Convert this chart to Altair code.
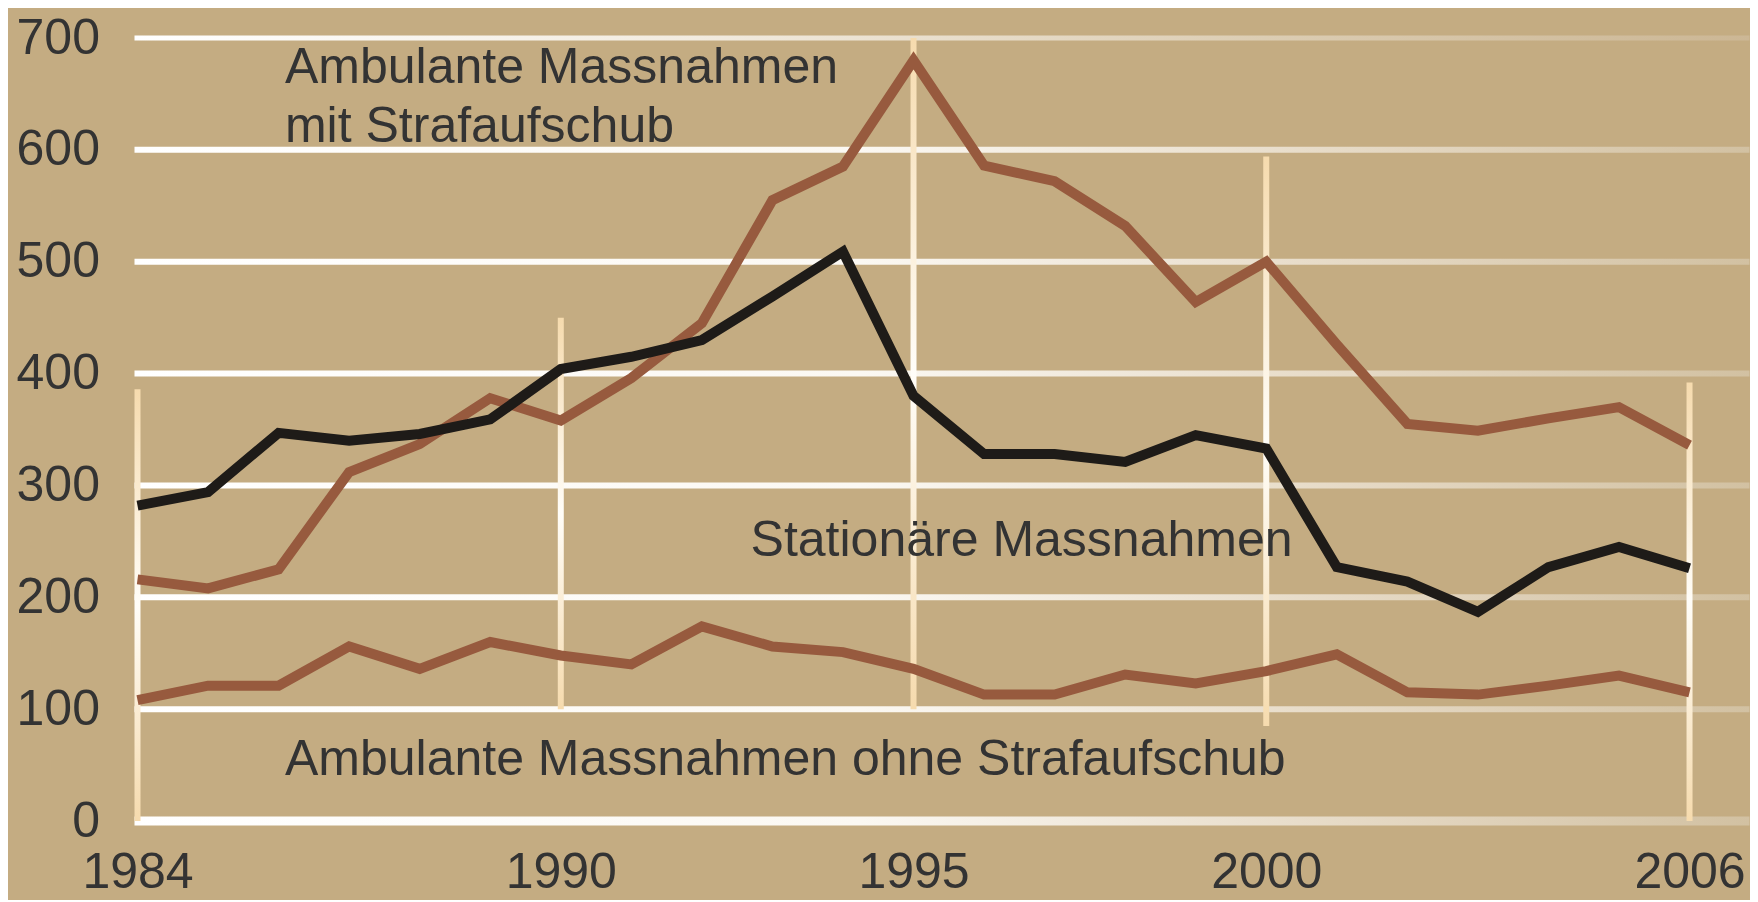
import altair as alt
import pandas as pd

# ---- data ----
years = list(range(1984, 2007))
stationaer = [282, 294, 347, 340, 346, 359, 404, 415, 430, 469, 509, 380, 328, 328,
              321, 345, 333, 227, 214, 187, 227, 245, 226]
mit_aufschub = [216, 208, 225, 312, 337, 378, 358, 396, 445, 555, 585, 680, 586, 572,
                532, 464, 500, 426, 355, 349, 360, 370, 336]
ohne_aufschub = [108, 121, 121, 156, 136, 160, 148, 140, 174, 156, 151, 136, 113, 113,
                 131, 123, 134, 149, 115, 113, 121, 130, 115]

series_names = ["Ambulante Massnahmen ohne Strafaufschub",
                "Ambulante Massnahmen mit Strafaufschub",
                "Stationäre Massnahmen"]
series_colors = ["#975A3E", "#975A3E", "#1E1B18"]

x_ticks = [1984, 1990, 1995, 2000, 2006]
y_ticks = [0, 100, 200, 300, 400, 500, 600, 700]

grid_mid = [100, 200, 300, 400, 500, 600]
grid_top = [700]
grid_base = [0]

rule_years = [1984, 1990, 1995, 2000, 2006]
rule_top = [386, 450, 700, 594, 392]
rule_bottom = [0, 100, 100, 85, 0]

ann_text = ["Ambulante Massnahmen", "mit Strafaufschub", "Stationäre Massnahmen",
            "Ambulante Massnahmen ohne Strafaufschub"]
ann_year = [1986.09, 1986.09, 1992.69, 1986.09]
ann_value = [660, 607, 237, 41]

# ---- tables ----
rows = []
for name, vals in zip(series_names, [ohne_aufschub, mit_aufschub, stationaer]):
    for y, v in zip(years, vals):
        rows.append({"year": y, "value": v, "series": name})
lines_df = pd.DataFrame(rows)
rules_df = pd.DataFrame({"year": rule_years, "top": rule_top, "bottom": rule_bottom})
ann_df = pd.DataFrame({"text": ann_text, "year": ann_year, "value": ann_value})

FONT = "Liberation Sans"
TXT = "#333333"
BG = "#C4AC82"

xscale = alt.Scale(domain=[1984, 2006.85], nice=False, zero=False)
yscale = alt.Scale(domain=[0, 700], nice=False)

xaxis = alt.Axis(values=x_ticks, format="d", labelFont=FONT, labelFontSize=50,
                 labelColor=TXT, labelPadding=26, ticks=False, tickSize=0,
                 domain=False, grid=False, labelFlush=False, labelOverlap=False)
yaxis = alt.Axis(values=y_ticks, labelFont=FONT, labelFontSize=50,
                 labelColor=TXT, labelPadding=38, ticks=False, tickSize=0,
                 domain=False, grid=False, labelFlush=False, labelOverlap=False)

grad_h = {"gradient": "linear", "x1": 0, "y1": 0, "x2": 1, "y2": 0,
          "stops": [{"offset": 0, "color": "#FFFFFF"},
                    {"offset": 0.45, "color": "#FBF8F2"},
                    {"offset": 0.75, "color": "#E6DAC6"},
                    {"offset": 1, "color": "#D2C1A2"}]}
grad_top = {"gradient": "linear", "x1": 0, "y1": 0, "x2": 1, "y2": 0,
            "stops": [{"offset": 0, "color": "#FFFFFF"},
                      {"offset": 0.35, "color": "#F2EBDF"},
                      {"offset": 0.7, "color": "#DCCDB3"},
                      {"offset": 1, "color": "#CCB795"}]}
grad_v = {"gradient": "linear", "x1": 0, "y1": 0, "x2": 0, "y2": 1,
          "stops": [{"offset": 0, "color": "#F6DBAE"},
                    {"offset": 0.5, "color": "#FFFDF8"},
                    {"offset": 1, "color": "#F6DBAE"}]}


def hgrid(vals, fill, half):
    df = pd.DataFrame({"v": vals})
    return alt.Chart(df).mark_rect(fill=fill, yOffset=-half, y2Offset=half, xOffset=-3).encode(
        x=alt.value(0), x2=alt.value(1612),
        y=alt.Y("v:Q", scale=yscale, axis=yaxis, title=None),
        y2=alt.Y2("v:Q"),
    )


g1 = hgrid(grid_mid, grad_h, 3)
g2 = hgrid(grid_top, grad_top, 2.5)
g3 = hgrid(grid_base, grad_h, 4.5)

vrules = alt.Chart(rules_df).mark_rect(fill=grad_v, xOffset=-3, x2Offset=3).encode(
    x=alt.X("year:Q", scale=xscale, axis=xaxis, title=None),
    x2=alt.X2("year:Q"),
    y=alt.Y("top:Q", scale=yscale, axis=yaxis, title=None),
    y2=alt.Y2("bottom:Q"),
)

lines = alt.Chart(lines_df).mark_line(strokeWidth=10, strokeJoin="miter", strokeCap="butt").encode(
    x=alt.X("year:Q", scale=xscale, title=None, axis=xaxis),
    y=alt.Y("value:Q", scale=yscale, title=None, axis=yaxis),
    color=alt.Color("series:N", scale=alt.Scale(domain=series_names, range=series_colors),
                    legend=None),
    detail="series:N",
    order=alt.Order("year:Q"),
)

texts = alt.Chart(ann_df).mark_text(font=FONT, fontSize=50, color=TXT, align="left",
                                    baseline="alphabetic").encode(
    x=alt.X("year:Q", scale=xscale, axis=xaxis, title=None),
    y=alt.Y("value:Q", scale=yscale, axis=yaxis, title=None),
    text="text:N",
)

chart = alt.layer(g1, g2, g3, vrules, lines, texts).properties(
    width=1612, height=783,
    autosize=alt.AutoSizeParams(type="none"),
    padding={"left": 129.5, "top": 30, "right": 0, "bottom": 79},
).configure(background=BG).configure_view(strokeWidth=0)

chart.save("out.html", embed_options={"renderer": "svg", "actions": False})
